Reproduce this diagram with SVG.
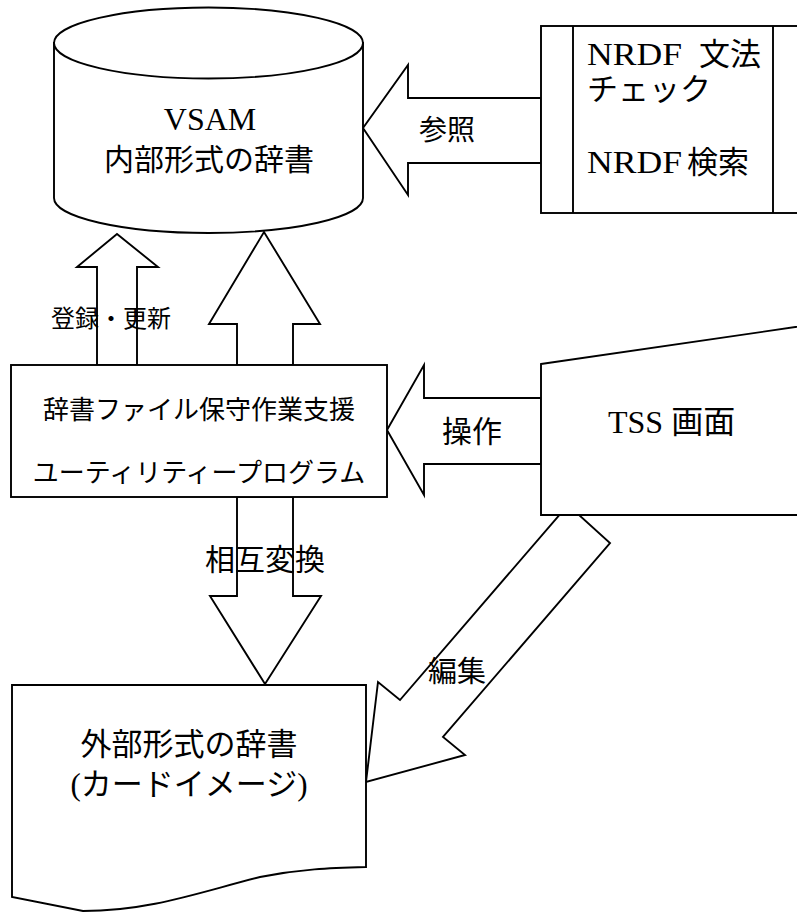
<svg xmlns="http://www.w3.org/2000/svg" width="797" height="912" viewBox="0 0 797 912">
<style>
.s{fill:#fff;stroke:#000;stroke-width:1.9;stroke-linejoin:miter}
.l{fill:none;stroke:#000;stroke-width:1.9}
.t{font-family:"Liberation Serif","Noto Sans CJK JP",serif;fill:#000}
.m{text-anchor:middle}
</style>
<rect width="797" height="912" fill="#fff"/>
<g id="connectors">
  <g id="edit-arrow">
    <polygon class="s" points="568,505 610,543 443,737 465,755 366,782 378,682 400,700"/>
    <text class="t m" x="457" y="682" font-size="29">編集</text>
  </g>
  <g id="ref-arrow">
    <polygon class="s" points="541,98 408,98 408,65 363,128 408,195 408,163 541,163"/>
    <text class="t m" x="447" y="140" font-size="28">参照</text>
  </g>
  <g id="register-arrow">
    <polygon class="s" points="97,365 97,267 77,267 117,234 158,267 137,267 137,365"/>
    <text class="t m" x="111" y="327" font-size="24">登録・更新</text>
  </g>
  <g id="up-arrow">
    <polygon class="s" points="237,365 237,324 209,324 264,232 320,324 293,324 293,365"/>
  </g>
  <g id="op-arrow">
    <polygon class="s" points="541,398 424,398 424,365 387,430 424,495 424,464 541,464"/>
    <text class="t m" x="472" y="442" font-size="30">操作</text>
  </g>
  <g id="convert-arrow">
    <polygon class="s" points="237,497 237,596 210,596 265,684 321,596 293,596 293,497"/>
    <text class="t m" x="265" y="570" font-size="30">相互変換</text>
  </g>
</g>
<g id="vsam">
  <path class="s" d="M54,43 L54,198 A154.5,35 0 0 0 363,198 L363,43 Z"/>
  <ellipse class="s" cx="208.5" cy="43" rx="154.5" ry="35.5"/>
  <text class="t m" x="210" y="130" font-size="32">VSAM</text>
  <text class="t m" x="209" y="170" font-size="30">内部形式の辞書</text>
</g>
<g id="nrdf">
  <rect class="s" x="541" y="26" width="280" height="187"/>
  <line class="l" x1="573" y1="26" x2="573" y2="213"/>
  <line class="l" x1="773" y1="26" x2="773" y2="213"/>
  <text class="t" y="65" font-size="31"><tspan x="587" textLength="95" lengthAdjust="spacingAndGlyphs">NRDF</tspan><tspan x="699">文法</tspan></text>
  <text class="t" x="587" y="100" font-size="31">チェック</text>
  <text class="t" y="173" font-size="31"><tspan x="587" textLength="95" lengthAdjust="spacingAndGlyphs">NRDF</tspan><tspan x="687">検索</tspan></text>
</g>
<g id="utility">
  <rect class="s" x="11" y="365" width="376" height="132"/>
  <text class="t m" x="199" y="419" font-size="26">辞書ファイル保守作業支援</text>
  <text class="t m" x="199" y="482" font-size="26">ユーティリティープログラム</text>
</g>
<g id="tss">
  <polygon class="s" points="541,364 830,322 830,515 541,515"/>
  <text class="t" x="608" y="433" font-size="32">TSS 画面</text>
</g>
<g id="external">
  <path class="s" d="M12,685 L366,685 L366,867 C 330,868 300,869 260,877 C 200,892 150,911 83,911 L12,897 Z"/>
  <text class="t m" x="189" y="755" font-size="31">外部形式の辞書</text>
  <text class="t m" x="189" y="795" font-size="31">(カードイメージ)</text>
</g>
</svg>
